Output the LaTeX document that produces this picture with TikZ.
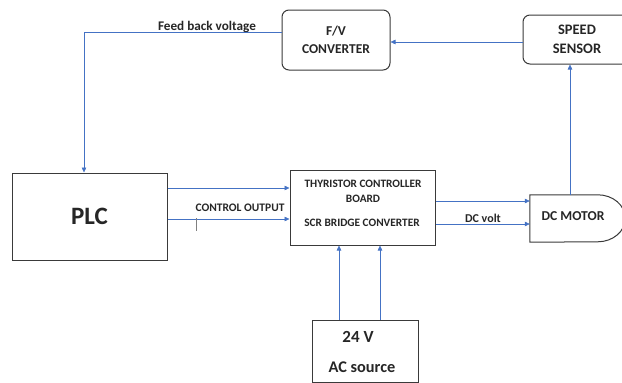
\documentclass[tikz,border=0pt]{standalone}
\usepackage{fontspec}
\setmainfont{Carlito}
\usetikzlibrary{arrows.meta,calc}
\definecolor{lineblue}{HTML}{4472C4}
\definecolor{boxgray}{HTML}{3A3A3A}
\tikzset{
  blk/.style={draw=boxgray, line width=1pt, fill=white, align=center, font=\bfseries, text=black!85, inner sep=0pt},
  arr/.style={draw=lineblue, line width=0.6pt, -{Triangle[width=4.5pt,length=5pt]}},
  lbl/.style={font=\bfseries, text=black!85, inner sep=0pt}
}
\begin{document}
\begin{tikzpicture}[x=1pt,y=-1pt]
\useasboundingbox (0,0) rectangle (622,383);
% nodes
\node[blk, rounded corners=7pt, minimum width=108pt, minimum height=60pt, font=\bfseries\fontsize{13.5}{18}\selectfont] (fv) at (336,40) {F/V\\CONVERTER};
\node[blk, rounded corners=7pt, minimum width=108pt, minimum height=49pt, font=\bfseries\fontsize{14.5}{19}\selectfont] (ss) at (577,39.5) {SPEED\\SENSOR};
\node[blk, minimum width=155pt, minimum height=87pt, font=\bfseries\fontsize{25}{29}\selectfont] (plc) at (89.5,216.5) {PLC};
\node[blk, minimum width=145pt, minimum height=75pt] (thy) at (362.5,207.5) {};
\node[lbl, font=\bfseries\fontsize{11.3}{13}\selectfont] (t1) at (363,184) {THYRISTOR CONTROLLER};
\node[lbl, font=\bfseries\fontsize{11.3}{13}\selectfont] (t2) at (363,199) {BOARD};
\node[lbl, font=\bfseries\fontsize{11.3}{13}\selectfont] (t3) at (362,223) {SCR BRIDGE CONVERTER};
\node[blk, minimum width=106pt, minimum height=62pt] (src) at (365,351) {};
\node[lbl, font=\bfseries\fontsize{17}{19}\selectfont] (s1) at (358,337) {24 V};
\node[lbl, font=\bfseries\fontsize{16.3}{19}\selectfont] (s2) at (362,367) {AC source};
% DC motor
\node[minimum width=86pt, minimum height=47pt, inner sep=0pt] (motor) at (573,218.5) {};
\draw[boxgray, line width=1pt, fill=white] (motor.north west) -- ++(68,0)
  arc[start angle=90, end angle=-90, x radius=27.5pt, y radius=23.5pt]
  -- (motor.south west) -- cycle;
\node[lbl, font=\bfseries\fontsize{13.6}{15}\selectfont] (mt) at (573,216) {DC MOTOR};
% labels
\node[lbl, font=\bfseries\fontsize{13.2}{15}\selectfont] (fbl) at (207,27) {Feed back voltage};
\node[lbl, font=\bfseries\fontsize{11.5}{13}\selectfont] (col) at (240,208) {CONTROL OUTPUT};
\node[lbl, font=\bfseries\fontsize{12}{14}\selectfont] (dcl) at (483,218.5) {DC volt};
% connectors
\coordinate (fbc) at (84,32);
\draw[arr] ([yshift=8pt]fv.west) -- (fbc) -- (plc.north -| fbc);
\draw[arr] ([yshift=-2.5pt]ss.west) -- ([yshift=-2pt]fv.east);
\draw[arr] ([xshift=-3pt]motor.north) -- ([xshift=-3pt]motor.north |- ss.south);
\draw[arr] ([yshift=28.5pt]plc.east) coordinate (p1) -- (thy.west |- p1);
\draw[arr] ([yshift=-2.5pt]plc.east) coordinate (p2) -- (thy.west |- p2);
\draw[arr] ([yshift=6.5pt]thy.east) coordinate (q1) -- (motor.west |- q1);
\draw[arr] ([yshift=-16.5pt]thy.east) coordinate (q2) -- (motor.west |- q2);
\draw[arr] ([xshift=-26pt]src.north) coordinate (r1) -- (thy.south -| r1);
\draw[arr] ([xshift=15pt]src.north) coordinate (r2) -- (thy.south -| r2);
\coordinate (tk) at (196,218);
\draw[gray, line width=0.8pt] (tk) -- ++(0,13);
\end{tikzpicture}
\end{document}
